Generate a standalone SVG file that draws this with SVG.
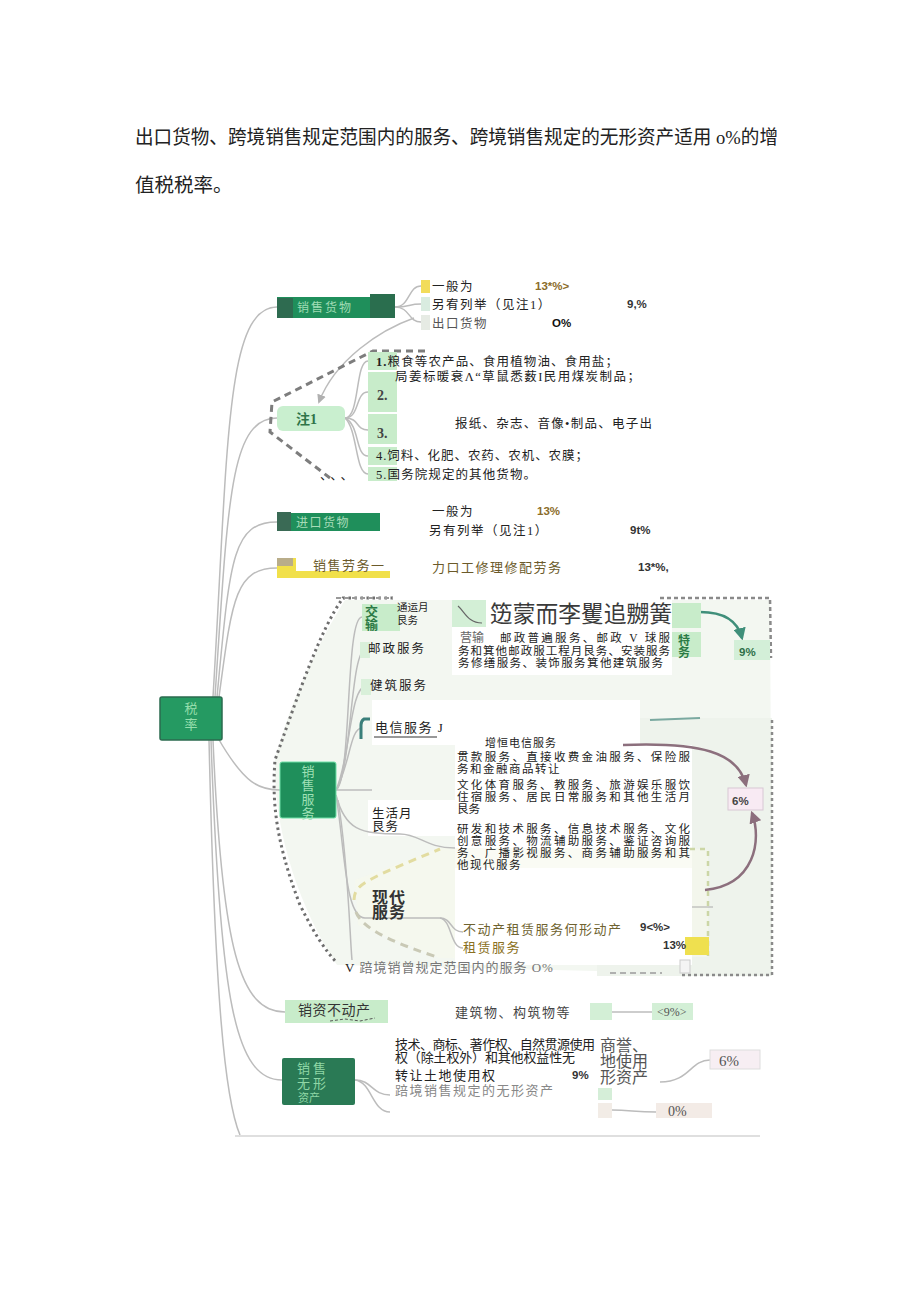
<svg xmlns="http://www.w3.org/2000/svg" width="920" height="1301" viewBox="0 0 920 1301">
<defs>
<style>
.t{font-family:'Liberation Serif','Noto Sans CJK SC',serif;fill:#222}
.s{font-size:12.5px}
.d{font-size:11.5px}
.m{font-size:13px}
.p{font-family:'Liberation Sans','Noto Sans CJK SC',sans-serif;font-weight:bold;font-size:11.5px;fill:#333}
.c{fill:none;stroke:#bcbcbc;stroke-width:1.5}
.dg{fill:#1f8f5b}
.lg{fill:#c8ecca}
.dash{fill:none;stroke:#7d7d7d;stroke-width:3;stroke-dasharray:7 5}
</style>
<marker id="ag" viewBox="0 0 10 10" refX="8" refY="5" markerWidth="6" markerHeight="6" orient="auto"><path d="M0,0L10,5L0,10z" fill="#b0b0b0"/></marker>
<marker id="at" viewBox="0 0 10 10" refX="8" refY="5" markerWidth="5" markerHeight="5" orient="auto"><path d="M0,0L10,5L0,10z" fill="#3f8f7a"/></marker>
<marker id="am" viewBox="0 0 10 10" refX="8" refY="5" markerWidth="5" markerHeight="5" orient="auto"><path d="M0,0L10,5L0,10z" fill="#8c6f7d"/></marker>
</defs>
<rect width="920" height="1301" fill="#fff"/>

<g id="header">
<text class="t" x="135" y="144" font-size="19.5" textLength="643" lengthAdjust="spacingAndGlyphs">出口货物、跨境销售规定范围内的服务、跨境销售规定的无形资产适用 o%的增</text>
<text class="t" x="135" y="192" font-size="19.5">值税税率。</text>
</g>

<g id="backgrounds">
<path d="M345,600 L770,600 L772,975 L337,965 C 300,910 273,830 275,760 C 290,700 320,640 345,600 Z" fill="#f3f7f1"/>
<rect x="597" y="718" width="175" height="258" fill="#eef3ec"/>
<rect x="452" y="599" width="220" height="76" fill="#fff"/>
<rect x="372" y="700" width="268" height="45" fill="#fff"/>
<rect x="455" y="745" width="237" height="220" fill="#fff"/>
<rect x="368" y="800" width="90" height="36" fill="#fff"/>
<path d="M355,880 L440,848 L690,848 L708,850 L708,957 L440,958 L358,925 Z" fill="#f7f8ec" opacity="0.6"/>
<rect x="455" y="868" width="237" height="97" fill="#fff"/>
</g>

<g id="connectors">
<path class="c" d="M213,697 C 228,450 225,307 277,307"/>
<path class="c" d="M215,697 C 228,500 230,418 277,418"/>
<path class="c" d="M217,697 C 230,560 232,522 277,522"/>
<path class="c" d="M219,697 C 232,600 235,568 277,568"/>
<path class="c" d="M218,738 C 245,785 260,790 280,790"/>
<path class="c" d="M213,740 C 222,950 240,1012 285,1012"/>
<path class="c" d="M211,740 C 220,1000 235,1080 282,1080"/>
<path class="c" d="M209,740 C 215,1000 225,1100 240,1135"/>
<path class="c" d="M395,307 C 410,307 408,286 421,286"/>
<path class="c" d="M395,307 C 410,307 408,304 421,304"/>
<path class="c" d="M395,307 C 410,307 408,322 421,322"/>
<path class="c" d="M414,318 C 380,330 335,360 319,402" marker-end="url(#ag)"/>
<path class="c" d="M345,418 C 360,418 355,361 368,361"/>
<path class="c" d="M345,418 C 360,418 355,392 368,392"/>
<path class="c" d="M345,418 C 360,418 355,430 368,430"/>
<path class="c" d="M345,418 C 360,425 355,456 368,456"/>
<path class="c" d="M345,418 C 358,430 355,474 368,474"/>
<path class="c" d="M336,790 C 352,780 345,617 362,617"/>
<path class="c" d="M336,790 C 352,770 350,649 366,649"/>
<path class="c" d="M336,790 C 350,760 350,686 366,686"/>
<path class="c" d="M336,790 C 350,765 350,728 362,728"/>
<path class="c" d="M336,790 L372,790"/>
<path class="c" d="M336,795 C 345,830 360,834 400,834 C 420,834 425,848 455,848"/>
<path class="c" d="M336,795 C 345,850 345,918 365,918 L440,918"/>
<path class="c" d="M338,800 C 348,860 350,940 352,960"/>
<path class="c" d="M440,918 C 452,918 450,932 463,932"/>
<path class="c" d="M440,918 C 452,920 450,948 463,948"/>
<path class="c" d="M355,1080 C 372,1080 372,1095 390,1095"/>
<path class="c" d="M355,1080 C 372,1082 372,1112 390,1112"/>
<path class="c" d="M660,1082 C 690,1082 690,1060 710,1060"/>
<path class="c" d="M612,1110 C 630,1110 635,1112 656,1112"/>
<path class="c" d="M612,1012 L652,1012"/>
<path d="M700,612 C 725,612 738,622 742,638" fill="none" stroke="#3f8f7a" stroke-width="2.5" marker-end="url(#at)"/>
<path d="M623,745 C 700,742 738,752 746,785" fill="none" stroke="#8c6f7d" stroke-width="2.5" marker-end="url(#am)"/>
<path d="M705,890 C 755,885 762,840 752,813" fill="none" stroke="#8c6f7d" stroke-width="2.5" marker-end="url(#am)"/>
<line x1="235" y1="1136" x2="760" y2="1136" stroke="#d4d4d4" stroke-width="1.5"/>
</g>

<g id="frames">
<path class="dash" d="M425,351 L373,351 L272,402 L270,432 L330,478"/>
<path d="M393,598 L343,598 C 320,630 300,690 275,760 C 272,800 275,840 300,905 C 315,935 325,950 337,963" fill="none" stroke="#6e6e6e" stroke-width="3" stroke-dasharray="2.5 3.5"/>
<path d="M660,598 L770,598 L771,658" fill="none" stroke="#8a8a8a" stroke-width="2.5" stroke-dasharray="4 3"/>
<path d="M772,720 L772,975 L680,975" fill="none" stroke="#8a8a8a" stroke-width="2.5" stroke-dasharray="3 3"/>
<path d="M610,973 L662,973" fill="none" stroke="#9a9a9a" stroke-width="1.5" stroke-dasharray="6 4"/>
<path d="M354,900 C 355,885 360,882 440,849" fill="none" stroke="#e2dca0" stroke-width="3" stroke-dasharray="8 6"/>
<path d="M356,912 C 362,930 400,945 440,958" fill="none" stroke="#c9c9b5" stroke-width="3" stroke-dasharray="8 6"/>
<path d="M690,849 L708,849 L708,957" fill="none" stroke="#ccd6a6" stroke-width="2.5" stroke-dasharray="5 5"/>
<line x1="692" y1="907" x2="713" y2="907" stroke="#aaa" stroke-width="1"/>
<line x1="650" y1="720" x2="700" y2="718" stroke="#7aa9a0" stroke-width="2"/>
</g>

<g id="root">
<rect x="160" y="697" width="62" height="43" rx="2" fill="#259a62" stroke="#2b6b4f" stroke-width="1.5"/>
<text class="t" x="191" y="713" font-size="13" text-anchor="middle" style="fill:#95deac">税</text>
<text class="t" x="191" y="729" font-size="13" text-anchor="middle" style="fill:#95deac">率</text>
</g>

<g id="n-goods">
<rect class="dg" x="277" y="297" width="118" height="21"/>
<rect x="277" y="298" width="16" height="20" fill="#2e6b50"/>
<rect x="370" y="294" width="25" height="24" fill="#2a6e4e"/>
<text class="t" x="297" y="312" font-size="12" letter-spacing="2" style="fill:#9fdcb4">销售货物</text>
<rect x="421" y="280" width="9" height="13" fill="#f2dc5a"/>
<rect x="421" y="297" width="9" height="14" fill="#d9ece0"/>
<rect x="421" y="315" width="9" height="15" fill="#e6ebe4"/>
<text class="t s" x="432" y="291" letter-spacing="1.5">一般为</text>
<text class="p" x="535" y="290" style="fill:#8b6c2a">13*%&gt;</text>
<text class="t s" x="432" y="309" letter-spacing="1.5">另宥列举（见注1）</text>
<text class="p" x="627" y="308">9,%</text>
<text class="t s" x="432" y="328" letter-spacing="1.5" style="fill:#555">出口货物</text>
<text class="p" x="552" y="327" style="fill:#111">O%</text>
</g>

<g id="n-note1">
<rect x="277" y="406" width="68" height="25" rx="6" fill="#c9efcf"/>
<text class="t" x="296" y="424" font-size="14" font-weight="bold" style="fill:#2f7448">注1</text>
<rect class="lg" x="368" y="352" width="29" height="18"/>
<rect class="lg" x="368" y="372" width="29" height="40"/>
<rect class="lg" x="368" y="414" width="29" height="30"/>
<rect class="lg" x="368" y="447" width="29" height="18"/>
<rect class="lg" x="368" y="467" width="29" height="14"/>
<text class="t s" x="376" y="366" textLength="242" lengthAdjust="spacing"><tspan font-weight="bold">1.</tspan>粮食等农产品、食用植物油、食用盐；</text>
<text class="t s" x="395" y="381" textLength="245" lengthAdjust="spacing">局姜标暖衰Λ“草鼠悉薮I民用煤炭制品；</text>
<text class="t" x="377" y="400" font-size="14" font-weight="bold" style="fill:#444">2.</text>
<text class="t" x="377" y="438" font-size="14" font-weight="bold" style="fill:#444">3.</text>
<text class="t s" x="455" y="428" textLength="197" lengthAdjust="spacing">报纸、杂志、音像•制品、电子出</text>
<text class="t s" x="376" y="460" textLength="212" lengthAdjust="spacing">4.饲料、化肥、农药、农机、农膜；</text>
<text class="t s" x="376" y="479" textLength="160" lengthAdjust="spacing">5.国务院规定的其他货物。</text>
<text class="t s" x="320" y="480" letter-spacing="4">、、、</text>
</g>

<g id="n-import">
<rect class="dg" x="277" y="513" width="103" height="18"/>
<rect x="277" y="512" width="14" height="19" fill="#3a6a55"/>
<text class="t" x="296" y="527" font-size="12" letter-spacing="1.5" style="fill:#a7dcb8">进口货物</text>
<text class="t s" x="432" y="516" letter-spacing="1.5">一般为</text>
<text class="p" x="537" y="515" style="fill:#8b6c2a">13%</text>
<text class="t s" x="429" y="535" letter-spacing="1.5">另有列举（见注1）</text>
<text class="p" x="630" y="534" font-size="10">9t%</text>
</g>

<g id="n-labor">
<rect x="277" y="558" width="113" height="20" fill="#f1e04a"/>
<rect x="296" y="558" width="94" height="13" fill="#fff"/>
<rect x="277" y="558" width="16" height="8" fill="#b9ad8a"/>
<text class="t m" x="313" y="570" letter-spacing="1.5" style="fill:#6b5a2a">销售劳务一</text>
<text class="t m" x="432" y="572" letter-spacing="1.5" style="fill:#6b5a2a">力口工修理修配劳务</text>
<text class="p" x="638" y="571" font-size="10.5">13*%,</text>
<path d="M336,598 L393,598" fill="none" stroke="#999" stroke-width="2" stroke-dasharray="5 3"/>
</g>

<g id="n-services">
<rect class="dg" x="280" y="762" width="56" height="56" rx="2" stroke="#6fe0a8" stroke-width="1"/>
<text class="t" x="308" y="776" font-size="13" text-anchor="middle" style="fill:#9fe0b6">销</text>
<text class="t" x="308" y="790" font-size="13" text-anchor="middle" style="fill:#9fe0b6">售</text>
<text class="t" x="308" y="804" font-size="13" text-anchor="middle" style="fill:#9fe0b6">服</text>
<text class="t" x="308" y="818" font-size="13" text-anchor="middle" style="fill:#9fe0b6">务</text>
</g>

<g id="n-transport">
<rect class="lg" x="362" y="604" width="38" height="27"/>
<text class="t" x="365" y="616" font-size="13" font-weight="bold" style="fill:#2c7a45">交</text>
<text class="t" x="365" y="629" font-size="13" font-weight="bold" style="fill:#2c7a45">输</text>
<text class="t" x="397" y="611" font-size="10.5">通运月</text>
<text class="t" x="397" y="624" font-size="10.5">艮务</text>
<rect x="452" y="600" width="34" height="27" fill="#d3efd6"/>
<path d="M458,606 C 465,612 468,623 482,623" fill="none" stroke="#666" stroke-width="1.2"/>
<text class="t" x="490" y="622" font-size="23" textLength="182" lengthAdjust="spacingAndGlyphs" style="fill:#3a3a3a">笾蒙而李矍追嬲簧</text>
<rect class="lg" x="672" y="603" width="29" height="25"/>
<rect class="lg" x="672" y="632" width="29" height="25"/>
<text class="t" x="678" y="645" font-size="12" font-weight="bold" style="fill:#2c7a45">特</text>
<text class="t" x="678" y="657" font-size="12" font-weight="bold" style="fill:#2c7a45">务</text>
<rect x="734" y="640" width="36" height="20" fill="#d3efd8"/>
<text class="p" x="739" y="656" font-size="15" style="fill:#2e6f48">9%</text>
<text class="t" x="460" y="642" font-size="12" style="fill:#666">营输</text>
<text class="t d" x="500" y="642" textLength="170" lengthAdjust="spacing">邮政普遍服务、邮政 V 球服</text>
<text class="t d" x="458" y="655" textLength="212" lengthAdjust="spacing">务和箕他邮政服工程月艮务、安装服务</text>
<text class="t d" x="458" y="667" textLength="205" lengthAdjust="spacing">务修缮服务、装饰服务箕他建筑服务</text>
</g>

<g id="n-post">
<rect x="360" y="642" width="10" height="16" fill="#d9f0da"/>
<text class="t s" x="368" y="653" letter-spacing="2">邮政服务</text>
</g>

<g id="n-build">
<rect x="361" y="679" width="10" height="16" fill="#d9f0da"/>
<text class="t s" x="370" y="690" letter-spacing="2">健筑服务</text>
</g>

<g id="n-telecom">
<path d="M370,719 L364,719 Q361,721 361,725 L361,739" fill="none" stroke="#3a7f7a" stroke-width="3"/>
<text class="t m" x="375" y="732" letter-spacing="1.5">电信服务 J</text>
<line x1="374" y1="737" x2="437" y2="737" stroke="#333" stroke-width="1"/>
<text class="t" x="485" y="747" font-size="11" letter-spacing="1">增恒电信服务</text>
<text class="t d" x="457" y="761" textLength="233" lengthAdjust="spacing">贯款服务、直接收费金油服务、保险服</text>
<text class="t d" x="457" y="773" letter-spacing="1.5">务和金融商品转让</text>
<text class="t d" x="457" y="789" textLength="233" lengthAdjust="spacing">文化体育服务、教服务、旅游娱乐服饮</text>
<text class="t d" x="457" y="801" textLength="233" lengthAdjust="spacing">住宿服务、居民日常服务和其他生活月</text>
<text class="t d" x="457" y="813">艮务</text>
</g>

<g id="n-life">
<text class="t s" x="372" y="818" letter-spacing="1">生活月</text>
<text class="t s" x="372" y="831" letter-spacing="1">艮务</text>
<text class="t d" x="457" y="833" textLength="233" lengthAdjust="spacing">研发和技术服务、信息技术服务、文化</text>
<text class="t d" x="457" y="845" textLength="233" lengthAdjust="spacing">创意服务、物流辅助服务、鉴证咨询服</text>
<text class="t d" x="457" y="857" textLength="233" lengthAdjust="spacing">务、广播影视服务、商务辅助服务和其</text>
<text class="t d" x="457" y="869" letter-spacing="1.5">他现代服务</text>
</g>

<g id="n-rate6">
<rect x="728" y="788" width="35" height="22" fill="#f8eaf3" stroke="#d8c8d4"/>
<text class="p" x="732" y="805" font-size="15" style="fill:#444">6%</text>
</g>

<g id="n-modern">
<text class="t" x="372" y="903" font-size="16" font-weight="bold" letter-spacing="1" style="fill:#333">现代</text>
<text class="t" x="372" y="918" font-size="16" font-weight="bold" letter-spacing="1" style="fill:#333">服务</text>
<text class="t m" x="463" y="934" letter-spacing="1.5" style="fill:#6f6330">不动产租赁服务何形动产</text>
<text class="p" x="640" y="931" font-size="10">9&lt;%&gt;</text>
<text class="t m" x="463" y="952" letter-spacing="1.5" style="fill:#8a7020">租赁服务</text>
<rect x="685" y="937" width="24" height="18" fill="#efe04f"/>
<text class="p" x="663" y="949" font-size="11.5">13%</text>
<rect x="680" y="960" width="10" height="13" fill="#f4f4f4" stroke="#ccc"/>
<text class="t m" x="345" y="972" letter-spacing="1" style="fill:#777"><tspan style="fill:#222">V</tspan> 踣境销曾规定范国内的服务 O%</text>
</g>

<g id="n-realestate">
<rect class="lg" x="285" y="1000" width="103" height="23"/>
<text class="t" x="298" y="1015" font-size="14" letter-spacing="0.5" style="fill:#333">销资不动产</text>
<path d="M330,1021 L345,1019 L360,1021 L375,1018" fill="none" stroke="#555" stroke-width="1" stroke-dasharray="3 2"/>
<text class="t m" x="455" y="1017" letter-spacing="1.5" style="fill:#444">建筑物、构筑物等</text>
<rect x="590" y="1003" width="22" height="17" fill="#d3efd6"/>
<rect x="652" y="1003" width="41" height="17" fill="#d3efd6"/>
<text class="t" x="657" y="1016" font-size="12" style="fill:#555">&lt;9%&gt;</text>
</g>

<g id="n-intangible">
<rect x="282" y="1058" width="73" height="47" rx="2" fill="#2a7a55"/>
<text class="t" x="297" y="1073" font-size="13" letter-spacing="3" style="fill:#8fd7a6">销售</text>
<text class="t" x="297" y="1088" font-size="13" letter-spacing="3" style="fill:#8fd7a6">无形</text>
<text class="t" x="298" y="1102" font-size="11" style="fill:#8fd7a6">资产</text>
<text class="t" x="600" y="1051" font-size="16" style="fill:#555">商誉、</text>
<text class="t" x="600" y="1067" font-size="16" style="fill:#555">地使用</text>
<text class="t" x="600" y="1083" font-size="16" style="fill:#555">形资产</text>
<text class="t m" x="395" y="1049" textLength="200" lengthAdjust="spacing">技术、商标、著作权、自然贯源使用</text>
<text class="t m" x="395" y="1062" textLength="180" lengthAdjust="spacing">权（除土权外）和其他权益性无</text>
<text class="t m" x="395" y="1080" letter-spacing="1.5">转让土地使用权</text>
<text class="p" x="572" y="1079" font-size="11">9%</text>
<text class="t m" x="395" y="1095" letter-spacing="1.5" style="fill:#888">踣境销售规定的无形资产</text>
<rect x="710" y="1050" width="50" height="19" fill="#f7eef3" stroke="#ddd"/>
<text class="t" x="719" y="1066" font-size="15" style="fill:#555">6%</text>
<rect x="598" y="1088" width="14" height="12" fill="#d5eed8"/>
<rect x="598" y="1103" width="14" height="15" fill="#f2ece6"/>
<rect x="656" y="1103" width="56" height="15" fill="#f3ebe6"/>
<text class="t" x="668" y="1116" font-size="14" style="fill:#555">0%</text>
</g>
</svg>
